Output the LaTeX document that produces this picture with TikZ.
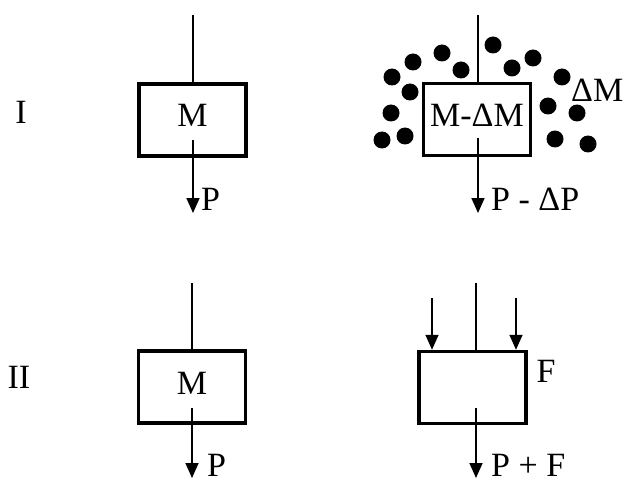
\documentclass[tikz,border=0pt]{standalone}
\usepackage{fontspec}
\setmainfont{Liberation Serif}
\usetikzlibrary{positioning,arrows.meta}

\begin{document}
\begin{tikzpicture}[x=1pt, y=-1pt, font=\fontsize{34}{40}\selectfont,
  box/.style={draw=black, line width=3.5pt, minimum width=107pt, minimum height=72pt, inner sep=0pt},
  wire/.style={draw=black, line width=1.7pt},
  arr/.style={wire, -{Triangle[length=15pt, width=13pt]}},
  lbl/.style={inner sep=0pt, anchor=base west},
  dot/.style={fill=black}]
\useasboundingbox (0,0) rectangle (624,484);
% row I
\node at (21,112) (rowI) {I};
\node[box] (boxA) at (192.5,120) {};
\node at (192.5,115) (mA) {M};
\node[box] (boxB) at (477,119.5) {};
\node at (477,115) (mB) {M-ΔM};
\coordinate (inA) at (193,15); \coordinate (outA) at (193,140); \coordinate (tipA) at (193,213);
\coordinate (inB) at (478,15); \coordinate (outB) at (478,138); \coordinate (tipB) at (478,213);
\draw[wire] (inA) -- (inA |- boxA.north); \draw[arr] (outA) -- (tipA);
\draw[wire] (inB) -- (inB |- boxB.north); \draw[arr] (outB) -- (tipB);
\node[lbl] at (201,210) (pA) {P};
\node[lbl] at (491,211) (pB) {P - ΔP};
% lost mass
\foreach \x/\y in {382/140, 392/77, 391/113, 405/136, 410/92, 413/62, 442/53, 461/70,
  493/45, 512/68, 533/58, 562/77, 548/106, 577/113, 555/139, 588/144}
  \fill[dot] (\x,\y) circle (8.5pt);
\node[lbl] at (571,102) (dM) {ΔM};
% row II
\node at (19,377) (rowII) {II};
\node[box] (boxC) at (192,387) {};
\node at (192,383) (mC) {M};
\node[box] (boxD) at (472.5,387.5) {};
\coordinate (inC) at (192,283); \coordinate (outC) at (192,408); \coordinate (tipC) at (192,478);
\coordinate (inD) at (476,283); \coordinate (outD) at (476,408); \coordinate (tipD) at (476,478);
\coordinate (fL) at (432,298); \coordinate (fR) at (516,298);
\draw[wire] (inC) -- (inC |- boxC.north); \draw[arr] (outC) -- (tipC);
\draw[wire] (inD) -- (inD |- boxD.north); \draw[arr] (outD) -- (tipD);
\draw[arr] (fL) -- (fL |- boxD.north); \draw[arr] (fR) -- (fR |- boxD.north);
\node[lbl] at (207,476) (pC) {P};
\node[lbl] at (491,476) (pD) {P + F};
\node at (546,371) (fD) {F};
\end{tikzpicture}
\end{document}
